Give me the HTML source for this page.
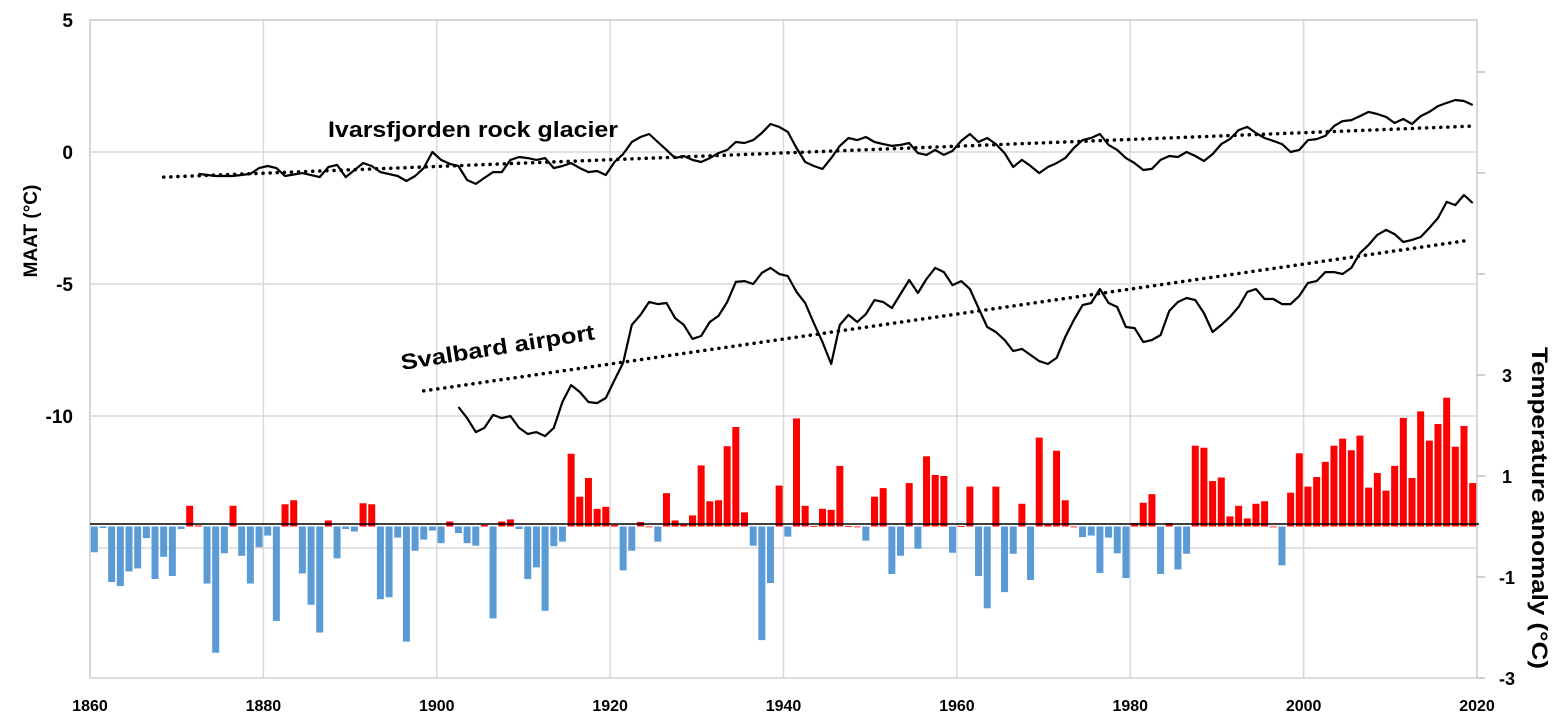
<!DOCTYPE html>
<html><head><meta charset="utf-8"><style>
html,body{margin:0;padding:0;background:#fff;}
svg{display:block;font-family:"Liberation Sans",sans-serif;}
</style></head><body>
<svg id="chart" width="1564" height="726" viewBox="0 0 1564 726" xmlns="http://www.w3.org/2000/svg">
<g id="grid"></g>
<g id="bars"></g>
<g id="lines"></g>
<g id="axes"></g>
<text x="328" y="137" font-size="22" font-weight="bold" textLength="290" lengthAdjust="spacingAndGlyphs">Ivarsfjorden rock glacier</text>
<text x="402" y="370" font-size="22" font-weight="bold" textLength="196" lengthAdjust="spacingAndGlyphs" transform="rotate(-9 402 370)">Svalbard airport</text>
<text x="0" y="0" font-size="19" font-weight="bold" text-anchor="middle" transform="translate(37 231) rotate(-90)">MAAT (°C)</text>
<text x="0" y="0" font-size="22" font-weight="bold" text-anchor="middle" textLength="322" lengthAdjust="spacingAndGlyphs" transform="translate(1532 508) rotate(90)">Temperature anomaly (°C)</text>
</svg>
<script>
const anomalyStartYear = 1860;
const anomalies = [-0.51,-0.03,-1.1,-1.18,-0.89,-0.83,-0.23,-1.04,-0.6,-0.98,-0.05,0.41,0.02,-1.13,-2.5,-0.53,0.41,-0.58,-1.13,-0.41,-0.18,-1.87,0.44,0.52,-0.93,-1.55,-2.1,0.12,-0.63,-0.05,-0.1,0.46,0.44,-1.44,-1.4,-0.22,-2.28,-0.48,-0.26,-0.08,-0.33,0.1,-0.13,-0.33,-0.38,0.03,-1.82,0.1,0.14,-0.05,-1.04,-0.81,-1.67,-0.39,-0.3,
1.44,0.59,0.96,0.35,0.39,0.03,-0.87,-0.48,0.09,0.0,-0.3,0.66,0.12,0.05,0.22,1.21,0.5,0.52,1.59,1.97,0.28,-0.38,-2.25,-1.12,0.81,-0.2,2.14,0.41,0.01,0.35,0.33,1.2,0.01,0.0,-0.28,0.59,0.76,-0.94,-0.58,0.86,-0.44,1.39,1.02,1.0,-0.52,0.01,0.79,-0.98,-1.62,0.79,
-1.3,-0.54,0.45,-1.06,1.76,0.05,1.5,0.52,0.0,-0.21,-0.18,-0.92,-0.22,-0.53,-1.02,0.07,0.47,0.64,-0.94,0.07,-0.85,-0.54,1.6,1.56,0.9,0.97,0.2,0.41,0.16,0.45,0.5,0.0,-0.77,0.67,1.45,0.79,0.98,1.28,1.6,1.74,1.51,1.8,0.77,1.06,0.71,1.2,2.15,0.96,2.28,1.7,2.03,2.55,1.58,1.99,0.86];
const ivarsEarlyYears = [1872,1874,1876,1878,1879,1880,1881,1882,1884,1886,1887,1888,1889,1891,1892,1893,1895,1896,1897,1898,1899,1900,1901,1902,1903,1904,1905,1906,1907,1908,1909,1910,1911,1912,1913,1914,1915,1916,1917,1918,1919];
const ivarsEarlyVals = [-0.83,-0.91,-0.91,-0.83,-0.61,-0.53,-0.61,-0.91,-0.8,-0.95,-0.57,-0.49,-0.95,-0.42,-0.53,-0.76,-0.91,-1.1,-0.91,-0.61,0,-0.3,-0.45,-0.53,-1.06,-1.21,-0.98,-0.76,-0.76,-0.3,-0.19,-0.23,-0.3,-0.23,-0.61,-0.53,-0.42,-0.61,-0.76,-0.72,-0.87];
const ivarsLateStart = 1920;
const ivarsLateVals = [-0.38,-0.08,0.38,0.57,0.68,0.38,0.08,-0.23,-0.15,-0.3,-0.38,-0.23,-0.04,0.08,0.38,0.34,0.45,0.72,1.06,0.95,0.76,0.15,-0.38,-0.53,-0.64,-0.23,0.23,0.53,0.45,0.57,0.38,0.3,0.23,0.27,0.34,-0.04,-0.11,0.08,-0.11,0.04,0.42,0.68,0.38,0.53,0.3,-0.04,-0.57,-0.3,-0.53,-0.8,-0.57,-0.42,-0.23,0.15,0.45,0.53,0.68,0.27,0.08,-0.23,-0.42,-0.68,-0.64,-0.3,-0.15,-0.19,0,-0.15,-0.34,-0.08,0.3,0.49,0.83,0.95,0.72,0.53,0.42,0.3,0,0.08,0.45,0.49,0.61,0.98,1.17,1.21,1.36,1.52,1.44,1.33,1.1,1.25,1.06,1.36,1.52,1.74,1.86,1.97,1.93,1.78];
const svalStart = 1902;
const svalVals = [-9.66,-10.08,-10.61,-10.45,-9.96,-10.08,-10.0,-10.45,-10.68,-10.61,-10.76,-10.45,-9.47,-8.83,-9.09,-9.47,-9.51,-9.32,-8.64,-7.99,-6.55,-6.17,-5.68,-5.76,-5.72,-6.29,-6.55,-7.08,-6.97,-6.44,-6.21,-5.68,-4.92,-4.89,-5.0,-4.58,-4.39,-4.62,-4.7,-5.3,-5.72,-6.48,-7.2,-8.03,-6.55,-6.17,-6.44,-6.14,-5.61,-5.68,-5.91,-5.38,-4.85,-5.34,-4.81,-4.39,-4.55,-5.04,-4.89,-5.19,-5.91,-6.63,-6.82,-7.12,-7.54,-7.46,-7.69,-7.92,-8.03,-7.8,-7.01,-6.36,-5.8,-5.72,-5.19,-5.72,-5.87,-6.63,-6.67,-7.2,-7.12,-6.93,-6.02,-5.68,-5.53,-5.61,-6.1,-6.82,-6.55,-6.25,-5.87,-5.3,-5.19,-5.57,-5.57,-5.76,-5.76,-5.45,-4.96,-4.89,-4.55,-4.55,-4.62,-4.39,-3.83,-3.52,-3.14,-2.95,-3.11,-3.41,-3.33,-3.22,-2.88,-2.5,-1.89,-2.01,-1.63,-1.93];
const ivarsTrendYears = [1868,2019];
const ivarsTrendVals = [-0.95,0.98];
const svalTrendYears = [1898,2018];
const svalTrendVals = [-9.05,-3.37];
const xTicks = [1860,1880,1900,1920,1940,1960,1980,2000,2020];
const leftTicks = [5,0,-5,-10];
const leftGrid = [5,0,-5,-10,-15];
const rightTicks = [3,1,-1,-3];
const rightMinor = [9,7,5];

const NS = "http://www.w3.org/2000/svg";
const X0 = 90, X1 = 1477, Y_TOP = 20, Y_BOT = 678;
const xs = yr => X0 + (yr - 1860) / 160 * (X1 - X0);
const xc = yr => xs(yr + 0.5);
const yL = v => 152 - v * 26.4;
const yR = v => 526.5 - v * 50.5;
function mk(tag, attrs, parent) {
  const e = document.createElementNS(NS, tag);
  for (const k in attrs) e.setAttribute(k, attrs[k]);
  parent.appendChild(e);
  return e;
}
const grid = document.getElementById('grid');
const bars = document.getElementById('bars');
const lines = document.getElementById('lines');
const axes = document.getElementById('axes');

xTicks.forEach(t => {
  const l = mk('line', {x1: xs(t), x2: xs(t), y1: Y_TOP, y2: Y_BOT, stroke: '#d9d9d9', 'stroke-width': 1.5}, grid);
  
  
});
leftGrid.forEach(t => {
  const l = mk('line', {x1: X0, x2: X1, y1: yL(t), y2: yL(t), stroke: '#d9d9d9', 'stroke-width': 1.5}, grid);
  
  
});
const frame = mk('rect', {x: X0, y: Y_TOP, width: X1 - X0, height: Y_BOT - Y_TOP, fill: 'none', stroke: '#d0d0d0', 'stroke-width': 1.5}, grid);



const bw = 7;
anomalies.forEach((v, i) => {
  const yr = anomalyStartYear + i;
  const y0 = yR(0), y1 = yR(v);
  const r = mk('rect', {x: xc(yr) - bw / 2, y: Math.min(y0, y1), width: bw, height: Math.max(0.8, Math.abs(y1 - y0)), fill: v >= 0 ? '#ff0000' : '#5b9bd5'}, bars);
  
  
});
const zl = mk('line', {x1: X0, x2: X1 + 2, y1: 524, y2: 524, stroke: '#000', 'stroke-width': 1.5}, bars);



function poly(years, vals, dash, name) {
  const pts = years.map((y, i) => xc(y).toFixed(1) + ',' + yL(vals[i]).toFixed(1)).join(' ');
  const attrs = {points: pts, fill: 'none', stroke: '#000', 'stroke-width': dash ? 3.5 : 2.2, 'stroke-linejoin': 'round'};
  if (dash) { attrs['stroke-dasharray'] = '0.1 7'; attrs['stroke-linecap'] = 'round'; }
  const p = mk('polyline', attrs, lines);
  
  
}
const ivYears = ivarsEarlyYears.concat(ivarsLateVals.map((_, i) => ivarsLateStart + i));
const ivVals = ivarsEarlyVals.concat(ivarsLateVals);
poly(ivYears, ivVals, false, 'ivarsfjorden-line');
poly(svalVals.map((_, i) => svalStart + i), svalVals, false, 'svalbard-line');
poly(ivarsTrendYears, ivarsTrendVals, true, 'ivarsfjorden-trend');
poly(svalTrendYears, svalTrendVals, true, 'svalbard-trend');

xTicks.forEach(t => {
  const tx = mk('text', {x: xs(t), y: 711, 'font-size': 16, 'font-weight': 'bold', 'text-anchor': 'middle', fill: '#000'}, axes);
  tx.textContent = t;
  
  
});
leftTicks.forEach(t => {
  const tx = mk('text', {x: 73, y: yL(t) + 7, 'font-size': 19, 'font-weight': 'bold', 'text-anchor': 'end', fill: '#000'}, axes);
  tx.textContent = t;
  
  
});
rightTicks.concat(rightMinor).forEach(t => {
  const tk = mk('line', {x1: X1, x2: X1 + 8, y1: yR(t), y2: yR(t), stroke: '#bfbfbf', 'stroke-width': 1.5}, axes);
  
  
});
rightTicks.forEach(t => {
  const tx = mk('text', {x: 1507, y: yR(t) + 7, 'font-size': 18, 'font-weight': 'bold', 'text-anchor': 'middle', fill: '#000'}, axes);
  tx.textContent = t;
  
  
});
</script>
</body></html>
